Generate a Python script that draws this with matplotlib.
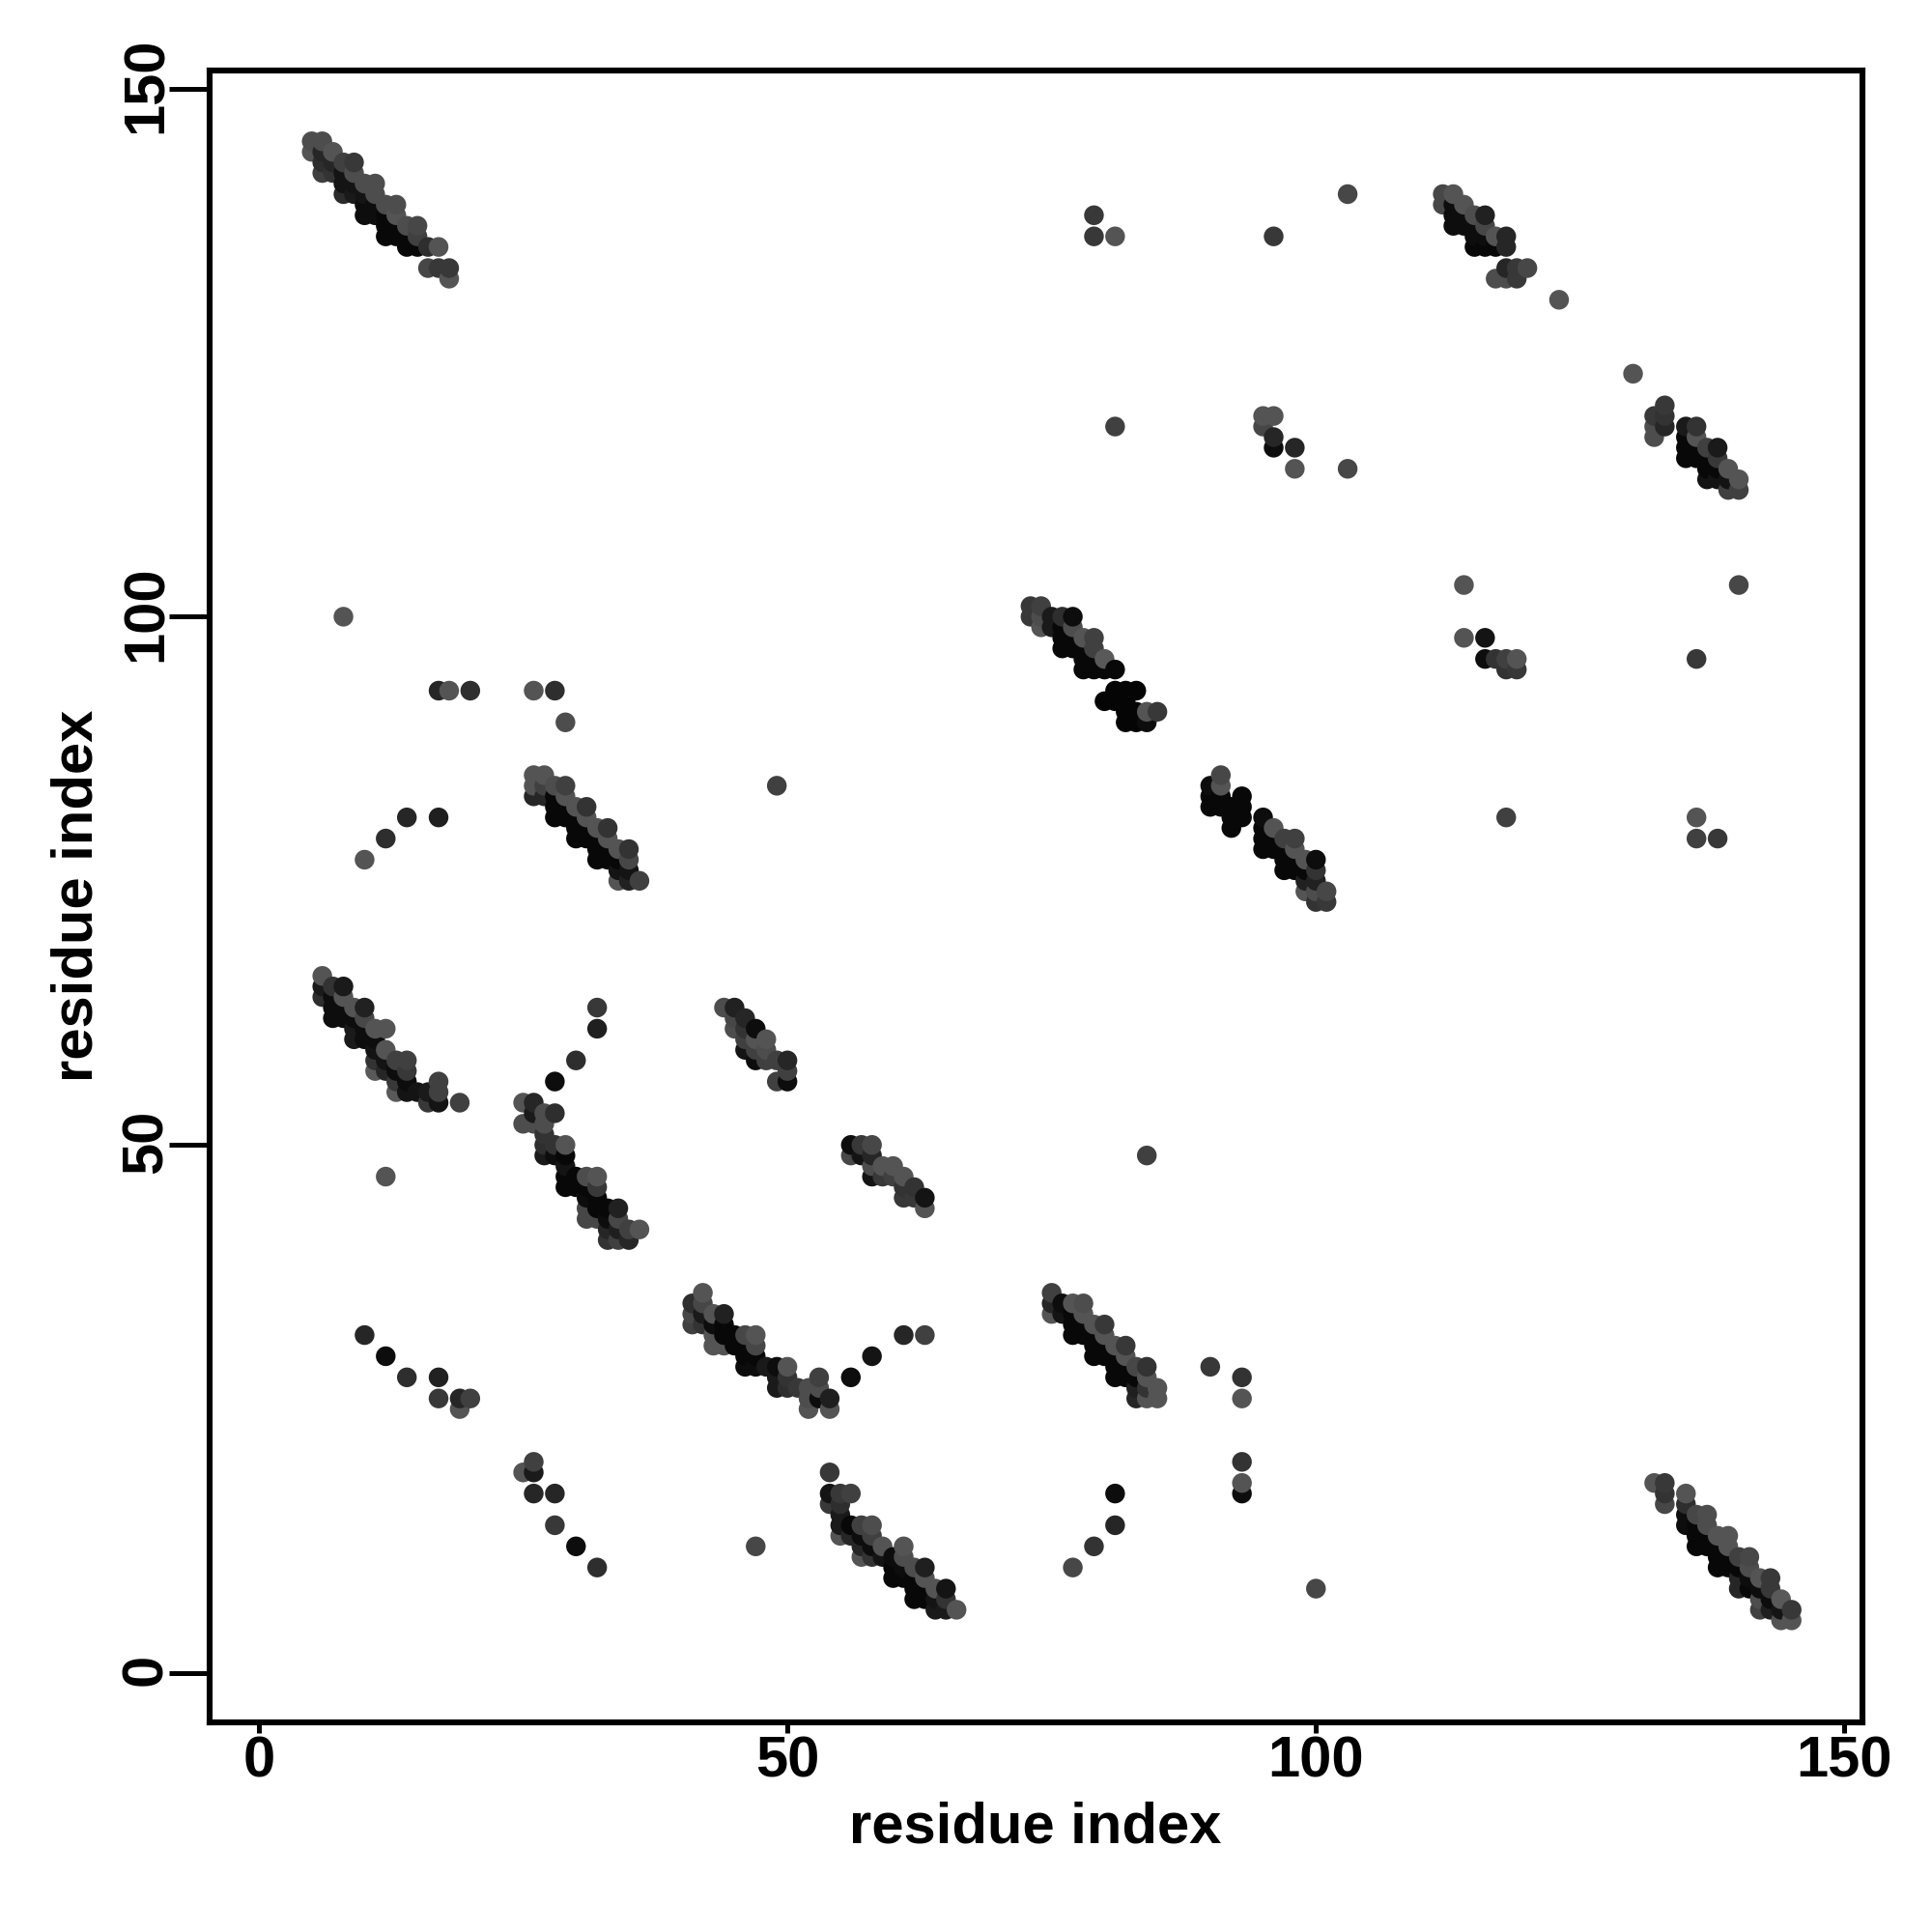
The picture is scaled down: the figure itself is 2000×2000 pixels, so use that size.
import matplotlib
matplotlib.use("Agg")
import matplotlib.pyplot as plt
from matplotlib.transforms import ScaledTranslation
import numpy as np

plt.rcParams['font.family'] = ['Liberation Sans', 'DejaVu Sans']

# each contact: (residue i, residue j, grey level in percent)
block_a = [(5,145,30),(6,145,30),(5,144,33),(6,144,15),(7,144,33),(6,143,18),(7,143,15),(8,143,25),(9,143,22),
           (6,142,25),(7,142,20),(8,142,8),(9,142,30),(8,141,8),(9,141,8),(10,141,30),(11,141,30),
           (8,140,17),(9,140,10),(10,140,8),(11,140,30),(10,139,5),(11,139,5),(12,139,30),(13,139,30),
           (10,138,5),(11,138,5),(12,138,3),(13,138,33),(12,137,3),(13,137,3),(14,137,30),(15,137,28),
           (12,136,3),(13,136,3),(14,136,3),(15,136,25),(14,135,3),(15,135,3),(16,135,18),(17,135,33),
           (16,133,28),(17,133,22),(18,133,22),(18,132,33)]
block_b = [(112,140,28),(113,140,33),(112,139,28),(113,139,5),(114,139,33),(113,138,5),(114,138,5),(115,138,30),(116,138,13),
           (113,137,5),(114,137,5),(115,137,5),(116,137,28),(115,136,5),(116,136,5),(117,136,33),(118,136,15),
           (115,135,3),(116,135,3),(117,135,3),(118,135,15),(118,133,15),(119,133,22),(120,133,28),
           (117,132,30),(118,132,30),(119,132,22),(123,130,33)]
block_c = [(130,123,33),(133,120,22),(132,119,22),(133,119,20),(132,118,30),(133,118,15),(132,117,30),
           (135,118,10),(136,118,20),(135,117,3),(136,117,33),(135,116,3),(136,116,3),(137,116,25),(138,116,10),
           (135,115,3),(136,115,3),(137,115,3),(138,115,22),(137,114,3),(138,114,3),(139,114,33),
           (137,113,8),(138,113,8),(139,113,8),(140,113,33),(139,112,25),(140,112,25)]
block_d = [(73,101,22),(74,101,25),(73,100,22),(74,100,30),(75,100,10),(76,100,18),(77,100,5),
           (74,99,33),(75,99,10),(76,99,3),(77,99,30),(76,98,3),(77,98,3),(78,98,33),(79,98,25),
           (76,97,3),(77,97,3),(78,97,3),(79,97,25),(78,96,3),(79,96,3),(80,96,35),
           (78,95,3),(79,95,3),(80,95,3),(81,95,3),(81,93,2),(82,93,2),(83,93,2),
           (80,92,2),(81,92,2),(82,92,2),(82,91,2),(83,91,2),(84,91,33),(85,91,22),
           (82,90,2),(83,90,2),(84,90,5)]
block_e = [(91,85,28),(90,84,5),(91,84,33),(90,83,3),(91,83,3),(93,83,3),(90,82,3),(91,82,3),(92,82,3),(93,82,3),
           (92,81,3),(93,81,3),(92,80,3),(95,81,5),(95,80,3),(96,80,33),(95,79,3),(96,79,3),(97,79,25),(98,79,25),
           (95,78,3),(96,78,3),(97,78,3),(98,78,33),(97,77,3),(98,77,3),(99,77,33),(100,77,5),
           (97,76,3),(98,76,3),(99,76,3),(100,76,20),(99,75,13),(100,75,13),(99,74,33),(100,74,30),(101,74,28),
           (100,73,20),(101,73,22)]
block_f = [(26,85,33),(27,85,33),(26,84,33),(27,84,25),(28,84,30),(29,84,25),(26,83,15),(27,83,15),(28,83,3),(29,83,33),
           (28,82,3),(29,82,3),(30,82,33),(31,82,20),(28,81,3),(29,81,3),(30,81,3),(31,81,33),
           (30,80,3),(31,80,3),(32,80,33),(33,80,20),(30,79,3),(31,79,3),(32,79,3),(33,79,33),
           (32,78,3),(33,78,3),(34,78,33),(35,78,20),(32,77,3),(33,77,3),(34,77,3),(35,77,28),
           (34,76,8),(35,76,8),(34,75,33),(35,75,13),(36,75,25)]
block_g = [(6,66,33),(6,65,10),(7,65,20),(8,65,10),(6,64,18),(7,64,5),(8,64,33),(7,63,5),(8,63,5),(9,63,33),(10,63,13),
           (7,62,5),(8,62,5),(9,62,5),(10,62,28),(9,61,10),(10,61,5),(11,61,33),(12,61,33),
           (9,60,10),(10,60,5),(11,60,5),(11,59,8),(12,59,33),(11,58,20),(12,58,8),(13,58,25),(14,58,25),
           (11,57,35),(12,57,15),(13,57,5),(14,57,22),(13,56,22),(14,56,5),(17,56,25),
           (13,55,35),(14,55,8),(15,55,8),(16,55,10),(17,55,25),(16,54,22),(17,54,8),(19,54,25),(12,47,33)]
block_h = [(28,56,5),(25,54,33),(26,54,15),(26,53,10),(27,53,30),(28,53,18),(25,52,30),(26,52,30),(27,52,30),(27,51,20),
           (27,50,18),(28,50,20),(29,50,33),(27,49,10),(28,49,5),(29,49,3),(29,48,8),(29,47,3),(30,47,3),(31,47,30),(32,47,33),
           (29,46,3),(30,46,3),(31,46,3),(32,46,22),(31,45,5),(32,45,3),(31,44,28),(32,44,3),(33,44,3),(34,44,13),
           (31,43,28),(32,43,28),(33,43,5),(34,43,28),(33,42,15),(34,42,12),(35,42,25),(36,42,33),
           (33,41,20),(34,41,25),(35,41,15)]
block_i = [(42,36,33),(41,35,18),(42,35,28),(41,34,28),(42,34,10),(43,34,33),(44,34,13),(41,33,25),(42,33,20),(43,33,5),(44,33,3),
           (43,32,33),(44,32,3),(45,32,3),(46,32,28),(47,32,33),(43,31,33),(44,31,33),(45,31,3),(46,31,3),(47,31,28),
           (46,30,3),(47,30,3),(46,29,5),(47,29,5),(48,29,10),(49,29,5),(50,29,33),(49,28,10),(50,28,20),(53,28,25),
           (49,27,10),(50,27,18),(51,27,22),(52,27,30),(53,27,30),(52,26,30),(53,26,5),(54,26,12),(52,25,33),(54,25,33)]
block_j = [(75,36,25),(75,35,15),(76,35,5),(77,35,33),(78,35,30),(75,34,33),(76,34,8),(77,34,3),(78,34,33),
           (77,33,3),(78,33,3),(79,33,33),(80,33,22),(77,32,3),(78,32,3),(79,32,3),(80,32,33),
           (79,31,3),(80,31,3),(81,31,33),(82,31,22),(79,30,3),(80,30,3),(81,30,3),(82,30,33),
           (81,29,3),(82,29,3),(83,29,28),(84,29,20),(81,28,3),(82,28,3),(83,28,3),(84,28,33),
           (83,27,12),(84,27,20),(85,27,33),(83,26,15),(84,26,33),(85,26,33)]
block_k = [(54,19,22),(54,17,8),(55,17,22),(56,17,25),(54,16,22),(55,16,18),(55,15,10),(55,14,10),(56,14,3),(57,14,25),(58,14,30),
           (55,13,33),(56,13,15),(57,13,5),(58,13,25),(57,12,15),(58,12,5),(59,12,33),(61,12,33),
           (57,11,33),(58,11,20),(59,11,8),(60,11,5),(61,11,30),(60,10,3),(61,10,5),(62,10,30),(63,10,12),
           (60,9,3),(61,9,3),(62,9,3),(63,9,33),(62,8,3),(63,8,3),(64,8,33),(65,8,8),
           (62,7,3),(63,7,3),(64,7,8),(65,7,20),(64,6,10),(65,6,10),(66,6,33)]
block_l = [(132,18,33),(133,18,22),(133,17,20),(133,16,28),(135,17,33),(135,16,18),(135,15,5),(136,15,28),(137,15,30),
           (135,14,5),(136,14,3),(137,14,30),(136,13,3),(137,13,3),(138,13,33),(139,13,33),(136,12,3),(137,12,3),(138,12,3),(139,12,33),
           (138,11,3),(139,11,3),(140,11,25),(141,11,28),(138,10,3),(139,10,3),(140,10,3),(141,10,30),
           (140,9,15),(141,9,5),(142,9,33),(143,9,22),(140,8,15),(141,8,3),(142,8,5),(143,8,22),
           (142,7,30),(143,7,5),(144,7,35),(142,6,25),(143,6,12),(144,6,8),(145,6,22),(144,5,33),(145,5,33)]
block_m = [(44,63,30),(45,63,13),(45,62,28),(46,62,15),(45,61,30),(46,61,20),(47,61,5),(46,60,25),(47,60,33),(48,60,33),
           (46,59,8),(47,59,25),(48,59,30),(47,58,5),(48,58,25),(49,58,25),(50,58,15),(50,57,25),(49,56,25),(50,56,5)]
block_n = [(56,50,5),(57,50,22),(58,50,28),(56,49,28),(57,49,8),(58,49,15),(58,48,30),(59,48,33),(60,48,33),
           (58,47,8),(59,47,22),(60,47,25),(61,47,33),(61,46,20),(62,46,20),(61,45,22),(62,45,22),(63,45,8),(63,44,33)]
block_o = [(114,98,33),(116,98,8),(116,96,5),(117,96,20),(118,96,25),(119,96,33),(118,95,20),(119,95,22)]
block_p = [(95,119,33),(96,119,33),(95,118,28),(96,117,15),(96,116,5),(98,116,15),(98,114,33)]
isolated = [(79,138,22),(79,136,22),(81,136,33),(96,136,22),(103,140,28),(81,118,25),(103,114,28),(114,103,33),(140,103,28),
            (136,96,22),(118,81,25),(136,81,33),(136,79,25),(138,79,22),(8,100,33),(17,93,15),(18,93,33),(20,93,18),
            (26,93,33),(28,93,18),(29,90,30),(49,84,25),(10,77,33),(12,79,18),(14,81,15),(17,81,12),(84,49,25),
            (32,63,22),(32,61,12),(30,58,18),(10,32,15),(12,30,5),(14,28,18),(17,28,13),(17,26,22),(19,26,15),(20,26,25),(19,25,33),
            (25,19,33),(26,20,25),(26,19,10),(26,17,15),(28,17,15),(28,14,22),(30,12,5),(32,10,18),(47,12,28),
            (77,10,28),(79,12,20),(81,14,15),(81,17,5),(100,8,28),(90,29,22),(93,28,20),(93,26,33),(93,20,20),(93,18,33),(93,17,5),
            (56,28,5),(58,30,8),(61,32,15),(63,32,25)]

x_ticks = [0, 50, 100, 150]
y_ticks = [0, 50, 100, 150]
axis_label = "residue index"

blocks = [block_a, block_b, block_c, block_d, block_e, block_f, block_g, block_h, block_i,
          block_j, block_k, block_l, block_m, block_n, block_o, block_p, isolated]
pts = np.array([p for b in blocks for p in b], dtype=float)
order = np.lexsort((pts[:, 1], pts[:, 0]))
pts = pts[order]

fig = plt.figure(figsize=(10, 10), dpi=200)
ax = fig.add_axes([217/2000, 1 - 1783/2000, (1928-217)/2000, (1783-73)/2000])
ax.scatter(pts[:, 0], pts[:, 1], s=54, c=[str(g/100) for g in pts[:, 2]], linewidths=0, zorder=3)
ax.set_xlim(-4.66, 151.7)
ax.set_ylim(-4.66, 151.7)
ax.set_xticks(x_ticks)
ax.set_yticks(y_ticks)
ax.tick_params(axis='x', length=4, width=1.8, labelsize=21.5, pad=1)
ax.tick_params(axis='y', length=15, width=1.8, labelsize=21.5, pad=-1.5)
up = ScaledTranslation(0, 1.3/72, fig.dpi_scale_trans)
for lab in ax.get_xticklabels():
    lab.set_fontweight('bold')
for lab in ax.get_yticklabels():
    lab.set_fontweight('bold')
    lab.set_rotation(90)
    lab.set_va('center')
    lab.set_transform(lab.get_transform() + up)
for s in ax.spines.values():
    s.set_linewidth(2.2)
fig.text(1072/2000, 1 - 1892/2000, axis_label, fontsize=21.5, fontweight='bold', ha='center', va='center')
fig.text(80/2000, 1 - 927/2000, axis_label, fontsize=21.5, fontweight='bold', ha='center', va='center', rotation=90)
fig.savefig("out.png", dpi=200, facecolor='white')
